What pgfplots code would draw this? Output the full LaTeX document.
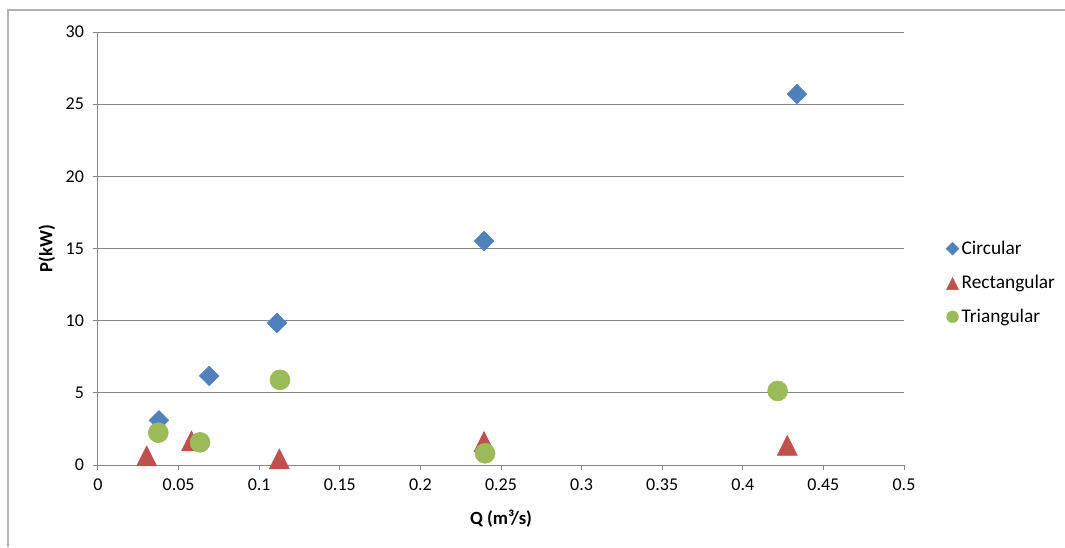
\documentclass[border=0pt]{standalone}
\usepackage{pgfplots}
\pgfplotsset{compat=1.18}
\usepackage{fontspec}
\setmainfont{Carlito}
\definecolor{cblue}{HTML}{4F81BD}
\definecolor{cred}{HTML}{C0504D}
\definecolor{cgreen}{HTML}{9BBB59}
\definecolor{axgray}{HTML}{868686}
\begin{document}
\begin{tikzpicture}
\useasboundingbox (-73.5pt,-61.5pt) rectangle (725.25pt,348.75pt);
\draw[color=black!30, line width=0.9pt] (-67.5pt,-61.5pt) -- (-67.5pt,341.25pt) -- (725.25pt,341.25pt);
\begin{axis}[
  at={(0,0)}, anchor=south west,
  scale only axis, width=604.5pt, height=324.75pt,
  xmin=0, xmax=0.5, ymin=0, ymax=30,
  xtick={0,0.05,...,0.5}, ytick={0,5,...,30},
  axis x line*=bottom, axis y line*=left,
  axis line style={axgray, line width=0.75pt},
  major tick length=4pt,
  tick align=outside,
  tick style={axgray, line width=0.75pt},
  ymajorgrids, grid style={axgray, line width=0.75pt},
  /pgf/number format/assume math mode=true,
  xticklabel style={/pgf/number format/fixed, /pgf/number format/precision=2},
  yticklabel style={/pgf/number format/fixed},
  ticklabel style={font=\fontsize{13.5}{15}\selectfont},
  xticklabel style={yshift=-3pt},
  yticklabel style={xshift=-3pt},
  xlabel={\textbf{Q (m³/s)}},
  ylabel={\textbf{P(kW)}},
  label style={font=\fontsize{14}{16}\selectfont},
  xlabel style={at={(axis description cs:0.5,-0.125)}, anchor=center},
  ylabel style={at={(axis description cs:-0.0633,0.5)}, anchor=center},
  legend style={draw=none, fill=none, at={(axis description cs:1.047,0.421)}, anchor=west,
    font=\fontsize{14.5}{17}\selectfont, row sep=10pt},
  legend cell align=left,
  legend image code/.code={\draw[#1] plot coordinates {(0.1cm,0cm)};},
  clip=false,
]
\addplot[only marks, mark=square*, mark size=5.2pt, mark options={rotate=45, draw=cblue, fill=cblue},
  legend image post style={mark size=3.4pt}]
  coordinates {(0.0378,3.1) (0.069,6.17) (0.111,9.84) (0.2395,15.52) (0.4336,25.7)};
\addlegendentry{Circular}
\addplot[only marks, mark=triangle*, mark size=8.66pt, mark options={yshift=-2.2pt, yscale=1.155, draw=cred, fill=cred},
  legend image post style={mark size=5.2pt}]
  coordinates {(0.0302,0.6) (0.058,1.64) (0.1125,0.4) (0.2395,1.6) (0.4276,1.33)};
\addlegendentry{Rectangular}
\addplot[only marks, mark=*, mark size=7.5pt, mark options={draw=cgreen, fill=cgreen},
  legend image post style={mark size=4.4pt}]
  coordinates {(0.0374,2.24) (0.0633,1.57) (0.1129,5.9) (0.2401,0.81) (0.4216,5.13)};
\addlegendentry{Triangular}
\end{axis}
\end{tikzpicture}
\end{document}
